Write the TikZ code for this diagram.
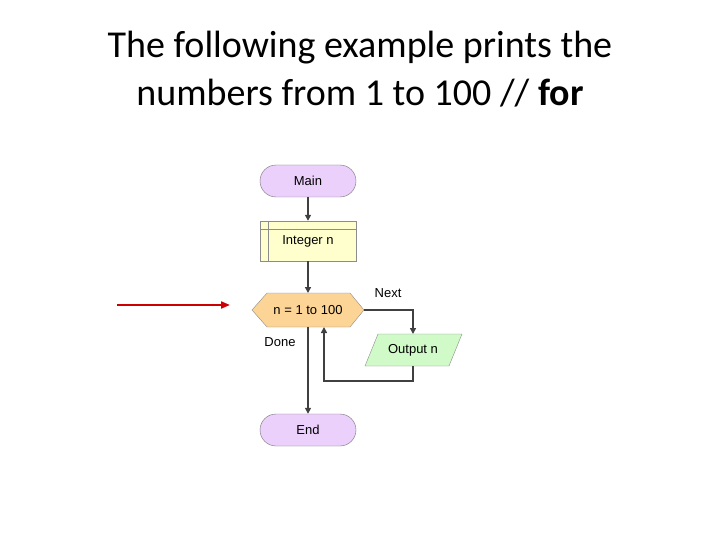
\documentclass[tikz,border=0pt]{standalone}
\usepackage{fontspec}
\setmainfont{Carlito}
\newfontfamily\arialf{Liberation Sans}
\usetikzlibrary{arrows.meta}
\definecolor{termc}{RGB}{236,208,252}
\definecolor{intc}{RGB}{255,255,206}
\definecolor{loopc}{RGB}{252,212,150}
\definecolor{outc}{RGB}{208,250,200}
\begin{document}
\begin{tikzpicture}[x=1pt,y=-1pt,
  term/.style={draw=black!55,fill=termc,rounded corners=16pt,minimum width=96pt,minimum height=32pt,font=\arialf\fontsize{13pt}{14pt}\selectfont},
  lbl/.style={font=\arialf\fontsize{13pt}{14pt}\selectfont},
  conn/.style={draw=black!75,line width=1.8pt,-{Triangle[length=6pt,width=6pt]}}]
\useasboundingbox (0,0) rectangle (720,540);
\node[font=\fontsize{38pt}{48pt}\selectfont,align=center] (title) at (360,69) {The following example prints the\\numbers from 1 to 100 // \textbf{for}};
\node[term] (main) at (308,181) {Main};
\node[draw=black!45,fill=intc,minimum width=96pt,minimum height=40pt,lbl] (int) at (308,241) {\raisebox{-4pt}{Integer n}};
\draw[black!45] (260,229) -- (356,229) (268,221) -- (268,261);
\fill[loopc,draw=black!45] (252,310) -- (267,293) -- (350,293) -- (364,310) -- (350,327) -- (267,327) -- cycle;
\node[lbl] (loop) at (308,310) {n = 1 to 100};
\coordinate (loopR) at (364,310);
\coordinate (loopB) at (308,327);
\coordinate (loopBR) at (324,327);
\fill[outc,draw=black!45] (378,334) -- (462,334) -- (449,366) -- (365,366) -- cycle;
\node[lbl] (out) at (413,350) {Output n};
\coordinate (outT) at (413,334);
\coordinate (outB) at (413,366);
\node[term] (end) at (308,430) {End};
\node[lbl] (next) at (388,293) {Next};
\node[lbl] (done) at (280,342) {Done};
\draw[conn] (main) -- (int);
\draw[conn] (int.south) -- (308,293);
\draw[conn] (loopR) -| (outT);
\draw[conn] (outB) -- (413,381) -| (loopBR);
\draw[conn] (loopB) -- (end);
\coordinate (ra) at (117,305);
\coordinate (rb) at (230,305);
\draw[red!80!black,line width=2pt,-{Triangle[length=9pt,width=7pt]}] (ra) -- (rb);
\end{tikzpicture}
\end{document}
